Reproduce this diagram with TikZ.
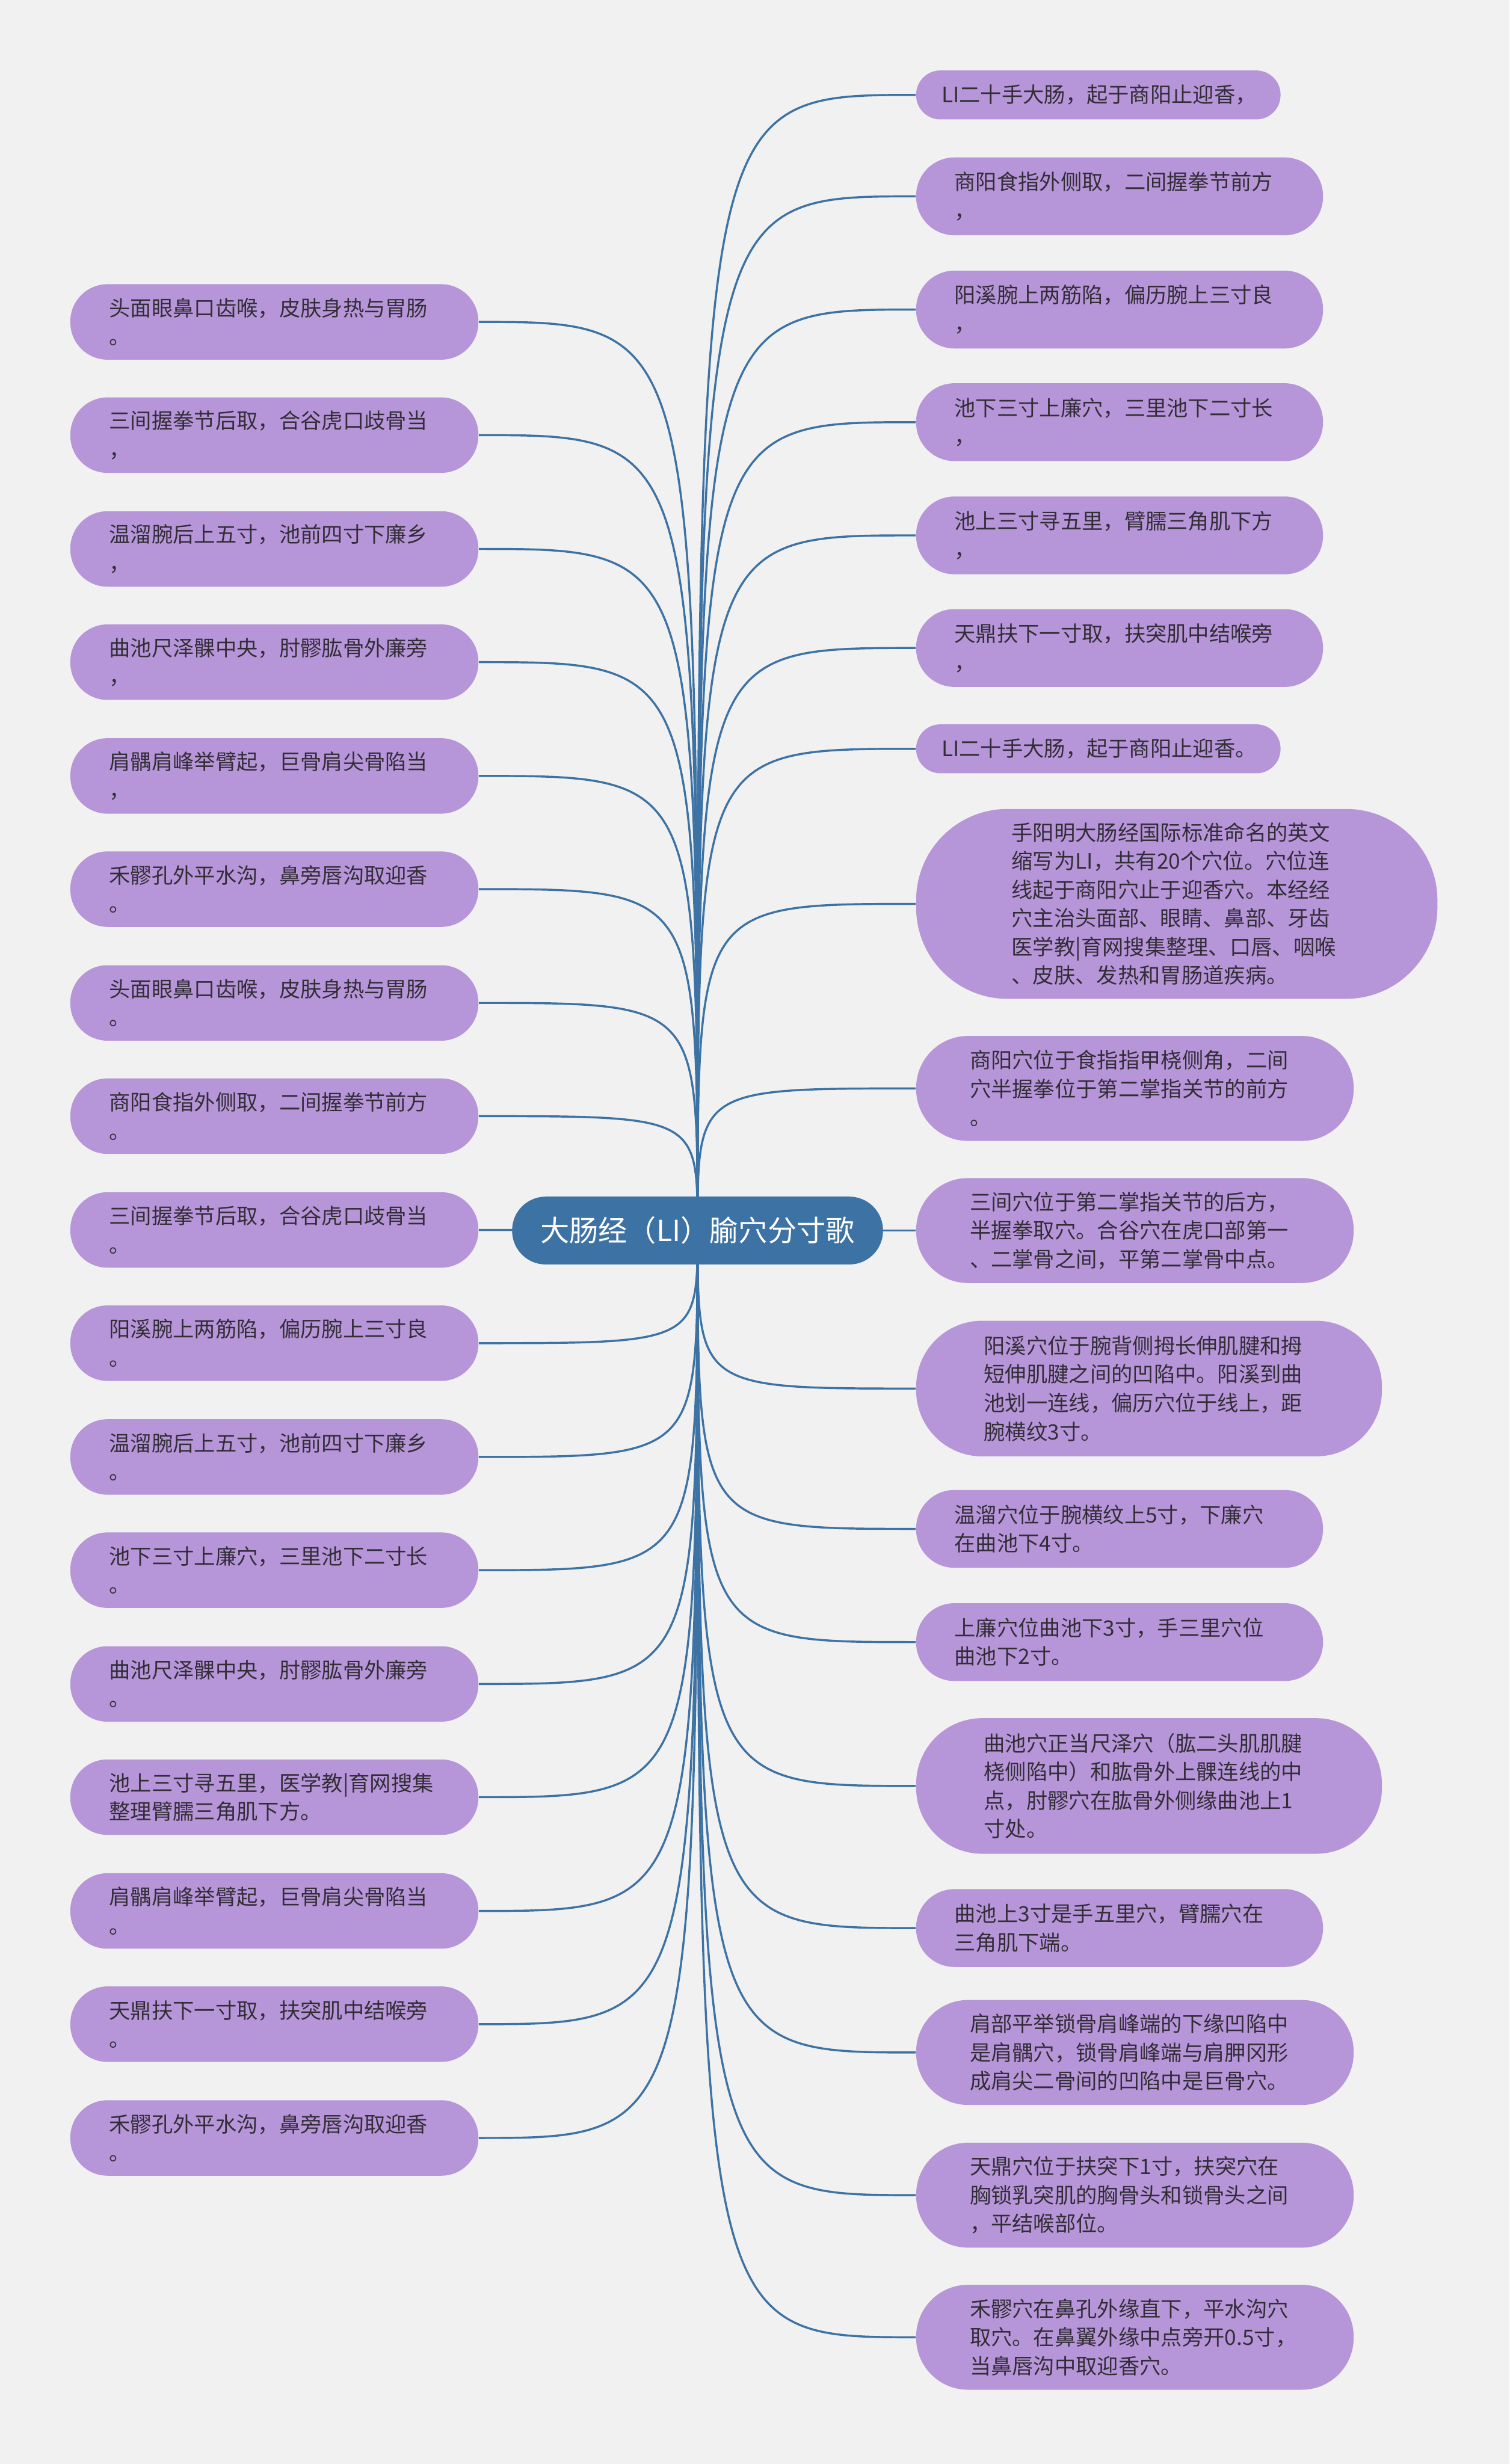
\documentclass[tikz,border=0pt]{standalone}
\usepackage{fontspec}
\setmainfont{Noto Sans CJK SC}
\usepackage{tikz}
\usetikzlibrary{backgrounds}
\definecolor{paper}{RGB}{241,241,241}
\definecolor{lilac}{RGB}{182,150,216}
\definecolor{steel}{RGB}{61,114,164}
\definecolor{ink}{RGB}{51,45,56}

\begin{document}
\begin{tikzpicture}[every node/.style={font=\fontsize{10.25pt}{13.8pt}\selectfont, text=ink},
    verse/.style={fill=lilac, align=left, text width=5.6cm, inner xsep=0.66cm, inner ysep=0pt, minimum height=1.28cm, rounded corners=0.63cm, anchor=east},
    note/.style={fill=lilac, align=left, text width=5.6cm, inner ysep=0pt, anchor=west},
    oneline/.style={minimum height=0.83cm, rounded corners=0.41cm},
    twoline/.style={minimum height=1.32cm, rounded corners=0.65cm},
    threeline/.style={minimum height=1.78cm, rounded corners=0.88cm},
    fourline/.style={minimum height=2.30cm, rounded corners=1.12cm},
    sixline/.style={minimum height=3.22cm, rounded corners=1.55cm},
    link/.style={draw=steel, line width=1pt}]
      \useasboundingbox (0,0) rectangle (25.6,-41.79);
      % title in the middle
      \node[fill=steel, text=white, font=\fontsize{14pt}{16pt}\selectfont, minimum width=6.29cm, minimum height=1.15cm, rounded corners=0.57cm] (title) at (11.83,-20.87) {大肠经（LI）腧穴分寸歌};
      % verses on the left
      \node[verse] (v1) at (8.12,-5.46) {头面眼鼻口齿喉，皮肤身热与胃肠\\。};
      \node[verse] (v2) at (8.12,-7.38) {三间握拳节后取，合谷虎口歧骨当\\，};
      \node[verse] (v3) at (8.12,-9.31) {温溜腕后上五寸，池前四寸下廉乡\\，};
      \node[verse] (v4) at (8.12,-11.23) {曲池尺泽髁中央，肘髎肱骨外廉旁\\，};
      \node[verse] (v5) at (8.12,-13.16) {肩髃肩峰举臂起，巨骨肩尖骨陷当\\，};
      \node[verse] (v6) at (8.12,-15.08) {禾髎孔外平水沟，鼻旁唇沟取迎香\\。};
      \node[verse] (v7) at (8.12,-17.01) {头面眼鼻口齿喉，皮肤身热与胃肠\\。};
      \node[verse] (v8) at (8.12,-18.93) {商阳食指外侧取，二间握拳节前方\\。};
      \node[verse] (v9) at (8.12,-20.86) {三间握拳节后取，合谷虎口歧骨当\\。};
      \node[verse] (v10) at (8.12,-22.78) {阳溪腕上两筋陷，偏历腕上三寸良\\。};
      \node[verse] (v11) at (8.12,-24.71) {温溜腕后上五寸，池前四寸下廉乡\\。};
      \node[verse] (v12) at (8.12,-26.63) {池下三寸上廉穴，三里池下二寸长\\。};
      \node[verse] (v13) at (8.12,-28.56) {曲池尺泽髁中央，肘髎肱骨外廉旁\\。};
      \node[verse] (v14) at (8.12,-30.48) {池上三寸寻五里，医学教|育网搜集\\整理臂臑三角肌下方。};
      \node[verse] (v15) at (8.12,-32.41) {肩髃肩峰举臂起，巨骨肩尖骨陷当\\。};
      \node[verse] (v16) at (8.12,-34.33) {天鼎扶下一寸取，扶突肌中结喉旁\\。};
      \node[verse] (v17) at (8.12,-36.26) {禾髎孔外平水沟，鼻旁唇沟取迎香\\。};
      % notes on the right
      \node[note, oneline, text width=5.32cm, inner xsep=0.43cm] (n1) at (15.53,-1.61) {LI二十手大肠，起于商阳止迎香，};
      \node[note, twoline, inner xsep=0.65cm] (n2) at (15.53,-3.33) {商阳食指外侧取，二间握拳节前方\\，};
      \node[note, twoline, inner xsep=0.65cm] (n3) at (15.53,-5.25) {阳溪腕上两筋陷，偏历腕上三寸良\\，};
      \node[note, twoline, inner xsep=0.65cm] (n4) at (15.53,-7.16) {池下三寸上廉穴，三里池下二寸长\\，};
      \node[note, twoline, inner xsep=0.65cm] (n5) at (15.53,-9.08) {池上三寸寻五里，臂臑三角肌下方\\，};
      \node[note, twoline, inner xsep=0.65cm] (n6) at (15.53,-10.99) {天鼎扶下一寸取，扶突肌中结喉旁\\，};
      \node[note, oneline, text width=5.32cm, inner xsep=0.43cm] (n7) at (15.53,-12.70) {LI二十手大肠，起于商阳止迎香。};
      \node[note, sixline, inner xsep=1.62cm] (n8) at (15.53,-15.33) {手阳明大肠经国际标准命名的英文\\缩写为LI，共有20个穴位。穴位连\\线起于商阳穴止于迎香穴。本经经\\穴主治头面部、眼睛、鼻部、牙齿\\医学教|育网搜集整理、口唇、咽喉\\、皮肤、发热和胃肠道疾病。};
      \node[note, threeline, inner xsep=0.91cm] (n9) at (15.53,-18.46) {商阳穴位于食指指甲桡侧角，二间\\穴半握拳位于第二掌指关节的前方\\。};
      \node[note, threeline, inner xsep=0.91cm] (n10) at (15.53,-20.87) {三间穴位于第二掌指关节的后方，\\半握拳取穴。合谷穴在虎口部第一\\、二掌骨之间，平第二掌骨中点。};
      \node[note, fourline, inner xsep=1.15cm] (n11) at (15.53,-23.55) {阳溪穴位于腕背侧拇长伸肌腱和拇\\短伸肌腱之间的凹陷中。阳溪到曲\\池划一连线，偏历穴位于线上，距\\腕横纹3寸。};
      \node[note, twoline, inner xsep=0.65cm] (n12) at (15.53,-25.93) {温溜穴位于腕横纹上5寸，下廉穴\\在曲池下4寸。};
      \node[note, twoline, inner xsep=0.65cm] (n13) at (15.53,-27.85) {上廉穴位曲池下3寸，手三里穴位\\曲池下2寸。};
      \node[note, fourline, inner xsep=1.15cm] (n14) at (15.53,-30.29) {曲池穴正当尺泽穴（肱二头肌肌腱\\桡侧陷中）和肱骨外上髁连线的中\\点，肘髎穴在肱骨外侧缘曲池上1\\寸处。};
      \node[note, twoline, inner xsep=0.65cm] (n15) at (15.53,-32.70) {曲池上3寸是手五里穴，臂臑穴在\\三角肌下端。};
      \node[note, threeline, inner xsep=0.91cm] (n16) at (15.53,-34.81) {肩部平举锁骨肩峰端的下缘凹陷中\\是肩髃穴，锁骨肩峰端与肩胛冈形\\成肩尖二骨间的凹陷中是巨骨穴。};
      \node[note, threeline, inner xsep=0.91cm] (n17) at (15.53,-37.23) {天鼎穴位于扶突下1寸，扶突穴在\\胸锁乳突肌的胸骨头和锁骨头之间\\，平结喉部位。};
      \node[note, threeline, inner xsep=0.91cm] (n18) at (15.53,-39.64) {禾髎穴在鼻孔外缘直下，平水沟穴\\取穴。在鼻翼外缘中点旁开0.5寸，\\当鼻唇沟中取迎香穴。};
      % branches, kept behind the boxes
      \begin{scope}[on background layer]
      \fill[paper] (0,0) rectangle (25.6,-41.79);
      \draw[link] (title.center) .. controls (title.center |- v1.east) .. (v1.east);
      \draw[link] (title.center) .. controls (title.center |- v2.east) .. (v2.east);
      \draw[link] (title.center) .. controls (title.center |- v3.east) .. (v3.east);
      \draw[link] (title.center) .. controls (title.center |- v4.east) .. (v4.east);
      \draw[link] (title.center) .. controls (title.center |- v5.east) .. (v5.east);
      \draw[link] (title.center) .. controls (title.center |- v6.east) .. (v6.east);
      \draw[link] (title.center) .. controls (title.center |- v7.east) .. (v7.east);
      \draw[link] (title.center) .. controls (title.center |- v8.east) .. (v8.east);
      \draw[link] (title.center) .. controls (title.center |- v9.east) .. (v9.east);
      \draw[link] (title.center) .. controls (title.center |- v10.east) .. (v10.east);
      \draw[link] (title.center) .. controls (title.center |- v11.east) .. (v11.east);
      \draw[link] (title.center) .. controls (title.center |- v12.east) .. (v12.east);
      \draw[link] (title.center) .. controls (title.center |- v13.east) .. (v13.east);
      \draw[link] (title.center) .. controls (title.center |- v14.east) .. (v14.east);
      \draw[link] (title.center) .. controls (title.center |- v15.east) .. (v15.east);
      \draw[link] (title.center) .. controls (title.center |- v16.east) .. (v16.east);
      \draw[link] (title.center) .. controls (title.center |- v17.east) .. (v17.east);
      \draw[link] (title.center) .. controls (title.center |- n1.west) .. (n1.west);
      \draw[link] (title.center) .. controls (title.center |- n2.west) .. (n2.west);
      \draw[link] (title.center) .. controls (title.center |- n3.west) .. (n3.west);
      \draw[link] (title.center) .. controls (title.center |- n4.west) .. (n4.west);
      \draw[link] (title.center) .. controls (title.center |- n5.west) .. (n5.west);
      \draw[link] (title.center) .. controls (title.center |- n6.west) .. (n6.west);
      \draw[link] (title.center) .. controls (title.center |- n7.west) .. (n7.west);
      \draw[link] (title.center) .. controls (title.center |- n8.west) .. (n8.west);
      \draw[link] (title.center) .. controls (title.center |- n9.west) .. (n9.west);
      \draw[link] (title.center) .. controls (title.center |- n10.west) .. (n10.west);
      \draw[link] (title.center) .. controls (title.center |- n11.west) .. (n11.west);
      \draw[link] (title.center) .. controls (title.center |- n12.west) .. (n12.west);
      \draw[link] (title.center) .. controls (title.center |- n13.west) .. (n13.west);
      \draw[link] (title.center) .. controls (title.center |- n14.west) .. (n14.west);
      \draw[link] (title.center) .. controls (title.center |- n15.west) .. (n15.west);
      \draw[link] (title.center) .. controls (title.center |- n16.west) .. (n16.west);
      \draw[link] (title.center) .. controls (title.center |- n17.west) .. (n17.west);
      \draw[link] (title.center) .. controls (title.center |- n18.west) .. (n18.west);
      \end{scope}
    \end{tikzpicture}
\end{document}
